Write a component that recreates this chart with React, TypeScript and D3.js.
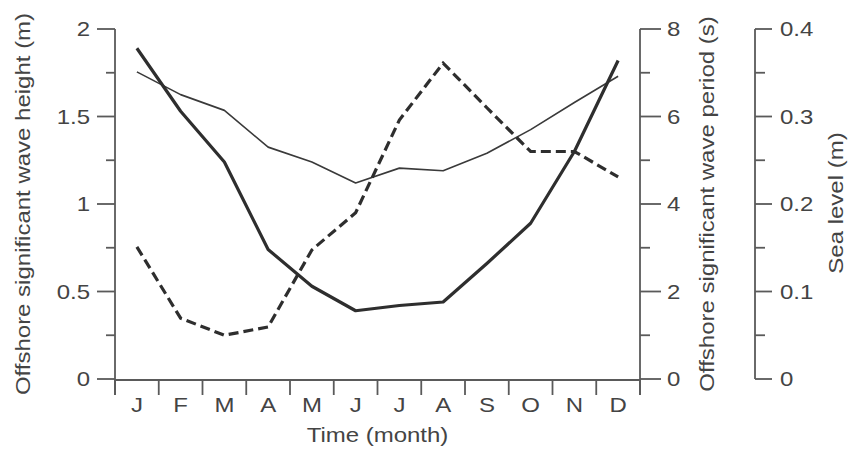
import React from 'react';
import * as d3 from 'd3';

const months = ['J', 'F', 'M', 'A', 'M', 'J', 'J', 'A', 'S', 'O', 'N', 'D'];
const waveHeight = [1.89, 1.53, 1.24, 0.74, 0.53, 0.39, 0.42, 0.44, 0.66, 0.89, 1.3, 1.82];
const wavePeriod = [3.02, 1.39, 1.0, 1.19, 2.95, 3.8, 5.92, 7.22, 6.2, 5.2, 5.2, 4.62];
const seaLevel = [0.351, 0.325, 0.307, 0.265, 0.248, 0.224, 0.241, 0.238, 0.258, 0.285, 0.316, 0.346];

const heightTicks = [0, 0.5, 1, 1.5, 2];
const heightMinor = [0.25, 0.75, 1.25, 1.75];
const periodTicks = [0, 2, 4, 6, 8];
const periodMinor = [1, 3, 5, 7];
const seaTicks = [0, 0.1, 0.2, 0.3, 0.4];
const seaMinor = [0.05, 0.15, 0.25, 0.35];

const W = 848;
const H = 452;
const FS = 20;
const SX = 1.2;
const TXT = '#444';
const AX = '#5a5a5a';
const LINE = '#2e2e2e';
const FONT = '"Liberation Sans", Arial, Helvetica, sans-serif';

function T({ x, y, anchor = 'middle', rotate = 0, dy = '0', children }: any) {
  const tf = `translate(${x},${y})${rotate ? ` rotate(${rotate})` : ''} scale(${SX},1)`;
  return (
    <text transform={tf} textAnchor={anchor} dy={dy} fontSize={FS} fontFamily={FONT} fill={TXT}>
      {children}
    </text>
  );
}

export default function App() {
  const left = 115;
  const right = 640;
  const top = 29;
  const bottom = 379;
  const seaX = 755;

  const x = d3.scaleBand<number>().domain(d3.range(12)).range([left, right]).padding(0);
  const cx = (i: number) => (x(i) as number) + x.bandwidth() / 2;
  const yH = d3.scaleLinear().domain([0, 2]).range([bottom, top]);
  const yP = d3.scaleLinear().domain([0, 8]).range([bottom, top]);
  const yS = d3.scaleLinear().domain([0, 0.4]).range([bottom, top]);

  const lineH = d3.line<number>().x((_, i) => cx(i)).y((d) => yH(d));
  const lineP = d3.line<number>().x((_, i) => cx(i)).y((d) => yP(d));
  const lineS = d3.line<number>().x((_, i) => cx(i)).y((d) => yS(d));

  const boundaries = d3.range(13).map((i) => (i < 12 ? (x(i) as number) : right));
  const tickBottom = 395;

  return (
    <svg width={W} height={H} style={{ position: 'absolute', left: 0, top: 0, background: '#fff' }}>
      <rect x={0} y={0} width={W} height={H} fill="#fff" />
      {/* series */}
      <path d={lineS(seaLevel) || ''} fill="none" stroke="#3a3a3a" strokeWidth={1.6} strokeLinejoin="round" />
      <path d={lineP(wavePeriod) || ''} fill="none" stroke={LINE} strokeWidth={3.2} strokeDasharray="10,5" strokeLinejoin="miter" />
      <path d={lineH(waveHeight) || ''} fill="none" stroke={LINE} strokeWidth={3.2} strokeLinejoin="round" />

      {/* left axis */}
      <line x1={left} x2={left} y1={top} y2={tickBottom} stroke={AX} strokeWidth={1.8} />
      {heightTicks.map((v) => (
        <g key={'hm' + v}>
          <line x1={left - 18} x2={left} y1={yH(v)} y2={yH(v)} stroke={AX} strokeWidth={1.8} />
          <T x={left - 25} y={yH(v)} anchor="end" dy="0.36em">{String(v)}</T>
        </g>
      ))}
      {heightMinor.map((v) => (
        <line key={'hn' + v} x1={left - 9} x2={left} y1={yH(v)} y2={yH(v)} stroke={AX} strokeWidth={1.8} />
      ))}

      {/* bottom axis */}
      <line x1={left} x2={right} y1={bottom + 1} y2={bottom + 1} stroke={AX} strokeWidth={1.8} />
      {boundaries.map((b, i) => (
        <line key={'b' + i} x1={b} x2={b} y1={bottom + 1} y2={tickBottom} stroke={AX} strokeWidth={1.8} />
      ))}
      {months.map((m, i) => (
        <T key={'m' + i} x={cx(i)} y={412}>{m}</T>
      ))}
      <T x={(left + right) / 2} y={442}>Time (month)</T>

      {/* period axis */}
      <line x1={right} x2={right} y1={top} y2={tickBottom} stroke={AX} strokeWidth={1.8} />
      {periodTicks.map((v) => (
        <g key={'pm' + v}>
          <line x1={right} x2={right + 21} y1={yP(v)} y2={yP(v)} stroke={AX} strokeWidth={1.8} />
          <T x={right + 27} y={yP(v)} anchor="start" dy="0.36em">{String(v)}</T>
        </g>
      ))}
      {periodMinor.map((v) => (
        <line key={'pn' + v} x1={right} x2={right + 10} y1={yP(v)} y2={yP(v)} stroke={AX} strokeWidth={1.8} />
      ))}

      {/* sea level axis */}
      <line x1={seaX} x2={seaX} y1={top} y2={bottom} stroke={AX} strokeWidth={1.8} />
      {seaTicks.map((v) => (
        <g key={'sm' + v}>
          <line x1={seaX} x2={seaX + 17} y1={yS(v)} y2={yS(v)} stroke={AX} strokeWidth={1.8} />
          <T x={seaX + 25} y={yS(v)} anchor="start" dy="0.36em">{String(v)}</T>
        </g>
      ))}
      {seaMinor.map((v) => (
        <line key={'sn' + v} x1={seaX} x2={seaX + 10} y1={yS(v)} y2={yS(v)} stroke={AX} strokeWidth={1.8} />
      ))}

      {/* axis titles */}
      <T x={30} y={204} rotate={-90}>Offshore significant wave height (m)</T>
      <T x={714} y={204} rotate={-90}>Offshore significant wave period (s)</T>
      <T x={843} y={203} rotate={-90}>Sea level (m)</T>
    </svg>
  );
}
